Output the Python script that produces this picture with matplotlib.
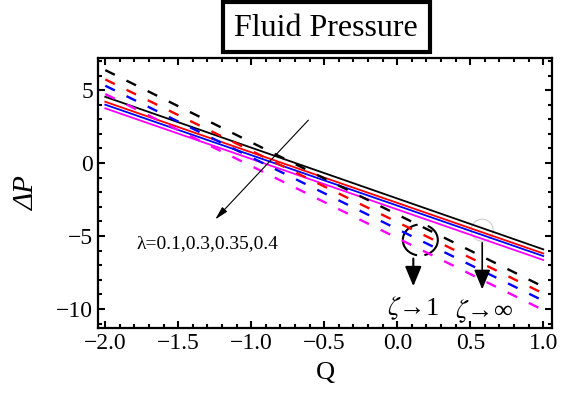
import matplotlib
matplotlib.use("Agg")
import matplotlib.pyplot as plt
import matplotlib.patches as patches
import matplotlib.transforms as mtransforms
from matplotlib.ticker import MultipleLocator

plt.rcParams['font.family'] = ['Liberation Serif', 'DejaVu Serif']
plt.rcParams['mathtext.fontset'] = 'stix'

# Data (straight lines, values at the ends of Q range)
Q = [-2.0, 1.0]
lambdas = [0.1, 0.3, 0.35, 0.4]
colors_ = ['black', 'red', 'blue', 'magenta']
dp_zeta_inf = [[4.54, -5.91], [4.20, -6.19], [4.00, -6.37], [3.75, -6.64]]   # solid
dp_zeta_one = [[6.37, -8.47], [5.73, -8.93], [5.30, -9.43], [4.73, -10.07]]  # dashed

fig = plt.figure(figsize=(5.61, 4.0), dpi=100)
ax = fig.add_axes([98 / 561, 1 - 328 / 400, 454 / 561, 270 / 400])

for c, ys in zip(colors_, dp_zeta_inf):
    ax.plot(Q, ys, color=c, lw=1.3)
for c, ys in zip(colors_, dp_zeta_one):
    ax.plot(Q, ys, color=c, lw=1.7, dashes=(4.5, 5.5))

ax.set_xlim(-2.05, 1.06)
ax.set_ylim(-11.3, 7.2)
ax.xaxis.set_major_locator(MultipleLocator(0.5))
ax.xaxis.set_minor_locator(MultipleLocator(0.1))
ax.yaxis.set_major_locator(MultipleLocator(5))
ax.yaxis.set_minor_locator(MultipleLocator(1))
ax.xaxis.set_major_formatter(plt.FuncFormatter(lambda v, p: f"{v:.1f}".replace('-', '\u2212')))
ax.yaxis.set_major_formatter(plt.FuncFormatter(lambda v, p: f"{v:.0f}".replace('-', '\u2212')))
ax.tick_params(which='both', direction='in', top=True, right=True, labelsize=17, width=1.5)
ax.tick_params(which='major', length=5)
ax.tick_params(which='minor', length=3)
for s in ax.spines.values():
    s.set_linewidth(1.6)

ax.set_xlabel("Q", fontsize=19, labelpad=6)
ax.set_ylabel("ΔP", fontsize=21, style='italic', labelpad=12)

# lambda arrow
ax.annotate("", xy=(-1.26, -4.0), xytext=(-0.596, 3.08),
            arrowprops=dict(arrowstyle='-|>,head_width=0.2,head_length=0.8', color='black', lw=0.8))
ax.text(-1.3, -5.5, "λ=0.1,0.3,0.35,0.4", fontsize=14, ha='center', va='center')


def at_data(x, y):
    # shapes sized in inches, placed at a data point
    return fig.dpi_scale_trans + mtransforms.ScaledTranslation(x, y, ax.transData)


# zeta -> 1 marker
t1 = at_data(0.158, -5.27)
ax.add_patch(patches.Arc((0, 0), 0.35, 0.31, theta1=100, theta2=258, color='black', lw=1.5, transform=t1))
ax.add_patch(patches.Arc((0, 0), 0.35, 0.31, theta1=-75, theta2=62, color='black', lw=1.5, transform=t1))
ax.annotate("", xy=(0.11, -8.63), xytext=(0.11, -6.35),
            arrowprops=dict(arrowstyle='-|>,head_width=0.5,head_length=1.2', color='black', lw=1.5))
ax.text(0.11, -9.95, r"$\zeta$→1", fontsize=19, ha='center', va='center')

# zeta -> inf marker
ax.add_patch(patches.Ellipse((0, 0), 0.22, 0.22, fill=False, edgecolor='#cccccc', lw=0.8,
                             transform=at_data(0.582, -4.6)))
ax.annotate("", xy=(0.582, -8.84), xytext=(0.582, -5.27),
            arrowprops=dict(arrowstyle='-|>,head_width=0.5,head_length=1.2', color='black', lw=1.2))
ax.text(0.596, -10.15, r"$\zeta$→∞", fontsize=19, ha='center', va='center')

# boxed title
fig.add_artist(patches.Rectangle((223 / 561, 1 - 52 / 400), 207 / 561, 50 / 400,
                                 transform=fig.transFigure, fill=False, lw=3, edgecolor='black'))
fig.text(326 / 561, 1 - 28 / 400, "Fluid Pressure", fontsize=23, ha='center', va='center')

fig.savefig("out.png", dpi=100)
